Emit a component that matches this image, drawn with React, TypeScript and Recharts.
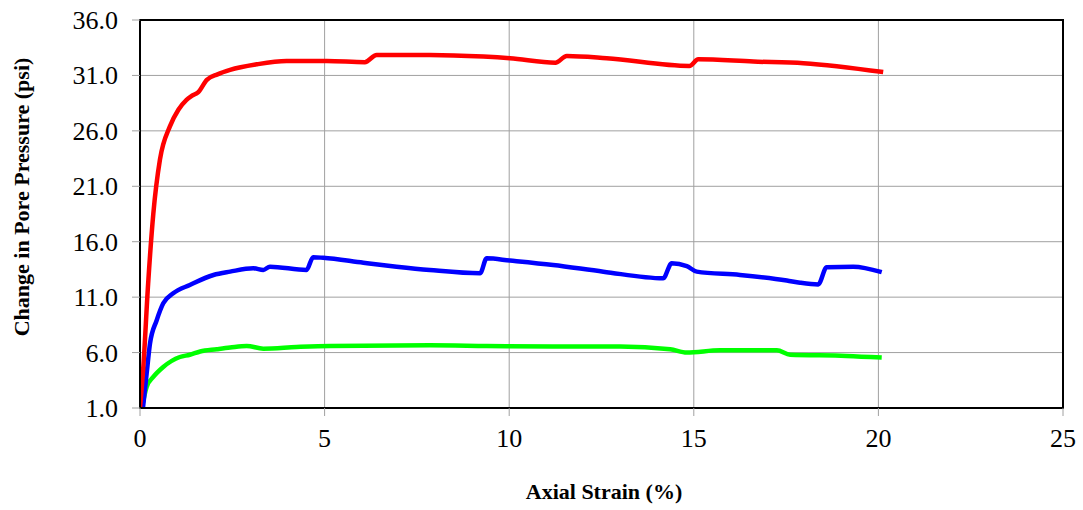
import { LineChart, Line, XAxis, YAxis, CartesianGrid, ReferenceArea, Label } from 'recharts';

const FONT = '"Times New Roman", "Liberation Serif", serif';

const xTicks = [0, 5, 10, 15, 20, 25];
const yTicks = [1, 6, 11, 16, 21, 26, 31, 36];

// red test
const redStrain = [0, 0.09, 0.22, 0.36, 0.54, 0.81, 1.04, 1.26, 1.4, 1.58, 1.81, 2.1, 2.44, 3.16, 3.97, 5.06, 6.09, 6.41, 7.85, 9.3, 10.02, 11.25, 11.56, 12.64, 14.88, 15.12, 16.61, 17.97, 20.13];
const redPressure = [1, 4.7, 12.2, 18.5, 23.4, 26.4, 27.9, 28.8, 29.15, 29.5, 30.6, 31.1, 31.5, 32.0, 32.3, 32.3, 32.2, 32.85, 32.85, 32.7, 32.55, 32.15, 32.75, 32.55, 31.85, 32.45, 32.25, 32.1, 31.3];

// blue test
const blueStrain = [0.08, 0.18, 0.27, 0.45, 0.63, 0.9, 1.35, 1.99, 2.44, 3.07, 3.34, 3.52, 4.51, 4.69, 4.96, 6.05, 6.95, 7.85, 9.21, 9.39, 10.02, 11.19, 12.55, 14.17, 14.4, 14.81, 15.08, 16.25, 17.52, 17.88, 18.37, 18.6, 19.32, 20.09];
const bluePressure = [1, 4.1, 6.8, 8.9, 10.45, 11.35, 12.1, 13.0, 13.3, 13.6, 13.45, 13.75, 13.45, 14.6, 14.55, 14.1, 13.75, 13.45, 13.15, 14.5, 14.3, 13.9, 13.3, 12.7, 14.05, 13.8, 13.3, 13.0, 12.5, 12.3, 12.15, 13.7, 13.75, 13.25];

// green test
const greenStrain = [0.05, 0.18, 0.36, 0.63, 1.08, 1.35, 1.63, 2.08, 2.44, 2.89, 3.34, 4.24, 5.15, 7.85, 9.39, 11.19, 13.0, 14.36, 14.81, 15.71, 17.25, 17.61, 19.14, 20.09];
const greenPressure = [1, 2.9, 3.8, 4.7, 5.6, 5.8, 6.1, 6.3, 6.45, 6.6, 6.35, 6.5, 6.6, 6.65, 6.6, 6.55, 6.55, 6.3, 6.0, 6.2, 6.2, 5.8, 5.7, 5.55];

const toPoints = (xs: number[], ys: number[]) => xs.map((x, i) => ({ strain: x, pressure: ys[i] }));

const series = [
  { id: 'green', color: '#00ff00', data: toPoints(greenStrain, greenPressure) },
  { id: 'blue', color: '#0000ff', data: toPoints(blueStrain, bluePressure) },
  { id: 'red', color: '#ff0000', data: toPoints(redStrain, redPressure) },
];

const XTick = (props: any) => (
  <text x={props.x} y={props.y} dy={18} textAnchor="middle" fontFamily={FONT} fontSize={26} fill="#000">
    {props.payload.value}
  </text>
);

const YTick = (props: any) => (
  <text x={props.x} y={props.y} dy={9} textAnchor="end" fontFamily={FONT} fontSize={26} fill="#000">
    {Number(props.payload.value).toFixed(1)}
  </text>
);

export default function App() {
  return (
    <div>
      <style>{'body{margin:0}'}</style>
      <LineChart width={1083} height={510} margin={{ top: 20, right: 20, left: 0, bottom: 0 }}>
        <CartesianGrid stroke="#a0a0a0" strokeWidth={1} horizontalValues={yTicks} verticalValues={xTicks} />
        <XAxis
          dataKey="strain"
          type="number"
          domain={[0, 25]}
          ticks={xTicks}
          height={102}
          tickSize={8}
          tickMargin={13}
          tickLine={{ stroke: '#a0a0a0' }}
          axisLine={{ stroke: '#000', strokeWidth: 2 }}
          tick={<XTick />}
          allowDataOverflow
        >
          <Label
            content={() => (
              <text x={604} y={499} textAnchor="middle" fontFamily={FONT} fontSize={22} fontWeight="bold" fill="#000">
                Axial Strain (%)
              </text>
            )}
          />
        </XAxis>
        <YAxis
          dataKey="pressure"
          type="number"
          domain={[1, 36]}
          ticks={yTicks}
          width={140}
          tickSize={8}
          tickMargin={14}
          tickLine={{ stroke: '#a0a0a0' }}
          axisLine={{ stroke: '#000', strokeWidth: 2 }}
          tick={<YTick />}
          allowDataOverflow
        >
          <Label
            content={() => (
              <text
                x={0}
                y={0}
                transform="translate(29,197) rotate(-90)"
                textAnchor="middle"
                fontFamily={FONT}
                fontSize={22}
                fontWeight="bold"
                fill="#000"
              >
                Change in Pore Pressure (psi)
              </text>
            )}
          />
        </YAxis>
        <ReferenceArea x1={0} x2={25} y1={1} y2={36} fill="none" fillOpacity={0} stroke="#000" strokeWidth={2} />
        {series.map((s) => (
          <Line
            key={s.id}
            data={s.data}
            dataKey="pressure"
            type="monotone"
            stroke={s.color}
            strokeWidth={4.5}
            dot={false}
            activeDot={false}
            isAnimationActive={false}
          />
        ))}
      </LineChart>
    </div>
  );
}
